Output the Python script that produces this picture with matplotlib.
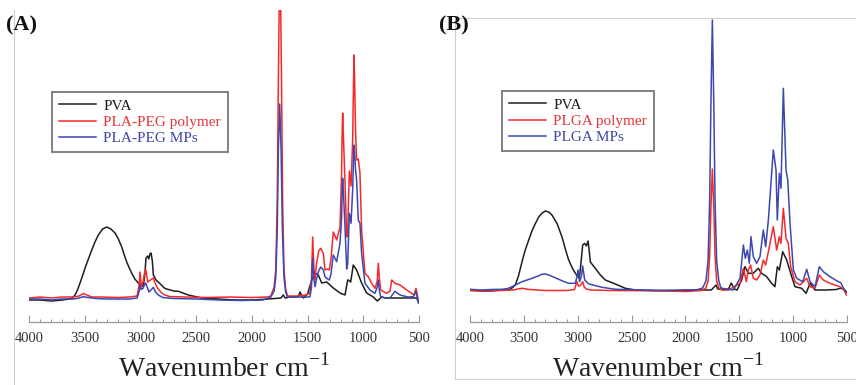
import matplotlib
matplotlib.use("Agg")
import matplotlib.pyplot as plt
from matplotlib.lines import Line2D
from matplotlib.patches import Rectangle
from matplotlib.ticker import MultipleLocator

plt.rcParams['font.family'] = ['Liberation Serif', 'DejaVu Serif']
plt.rcParams['mathtext.fontset'] = 'custom'
plt.rcParams['mathtext.rm'] = 'Liberation Serif'

# ---------------- Panel A data (wavenumber cm-1, absorbance a.u.) ----------------
wn_A_pva = [4000, 3900, 3800, 3700, 3640, 3610, 3587, 3565, 3542, 3520,
            3497, 3467, 3437, 3408, 3378, 3340, 3303, 3265, 3228, 3198,
            3168, 3145, 3123, 3100, 3079, 3050, 3019, 2990, 2974, 2960,
            2950, 2935, 2925, 2915, 2905, 2893, 2884, 2860, 2840, 2780,
            2700, 2660, 2570, 2450, 2300, 2150, 2000, 1850, 1740, 1718,
            1700, 1660, 1610, 1580, 1568, 1550, 1538, 1500, 1463, 1433,
            1404, 1373, 1328, 1269, 1209, 1164, 1140, 1135, 1113, 1090,
            1060, 1015, 970, 910, 874, 835, 800, 760, 650, 560,
            521, 505]
ab_A_pva = [-1, -1, -2, -1, 0, 1, 4, 9, 16, 23,
            31, 40, 49, 57, 64, 70, 72, 70, 66, 60,
            52, 44, 37, 31, 26, 20, 16, 13, 13, 25,
            41, 43, 40, 45, 46, 38, 24, 19, 17, 10.5,
            8, 7.7, 4, 1, 0, -1, -1, 0, 1, 4,
            1, 2, 2, 3, 7, 3, 1, 5, 19, 26,
            24, 16, 17, 11, 6, 4, 19, 19, 17, 34,
            29, 16, 6, 2, -2, 2, 1, 1, 1, 1,
            1, -3]

wn_A_poly = [4000, 3900, 3800, 3700, 3600, 3550, 3513, 3480, 3437, 3350,
             3200, 3100, 3030, 3010, 3004, 2995, 2989, 2975, 2960, 2953,
             2945, 2935, 2910, 2884, 2865, 2845, 2810, 2780, 2740, 2600,
             2400, 2200, 2000, 1860, 1830, 1800, 1785, 1772, 1762, 1752,
             1744, 1734, 1724, 1712, 1697, 1680, 1640, 1600, 1520, 1478,
             1465, 1454, 1443, 1433, 1420, 1400, 1382, 1359, 1344, 1320,
             1305, 1290, 1269, 1239, 1209, 1195, 1190, 1185, 1179, 1164,
             1149, 1140, 1125, 1110, 1095, 1088, 1083, 1077, 1070, 1060,
             1045, 1030, 1015, 985, 955, 925, 895, 875, 865, 855,
             844, 790, 760, 745, 716, 670, 610, 545, 527, 506]
ab_A_poly = [1, 2, 1, 2, 2, 3, 5.5, 4, 2, 2,
             1.5, 2, 3, 15, 27, 16, 12, 18, 28, 29.7,
             24, 17, 19, 21, 15, 10.7, 6, 4, 2.5, 2,
             1.5, 2, 1.5, 2, 3, 12, 30, 100, 220, 320,
             320, 220, 100, 30, 10, 3, 3, 3, 4, 5.7,
             20, 62, 30, 19, 35, 48, 50.7, 45.7, 29, 30,
             29, 40, 67, 59, 72, 125, 165, 186, 165, 116,
             62, 70, 128, 113, 160, 215, 244, 215, 170, 139,
             140, 126, 69, 25.7, 22.3, 15.7, 10.7, 18, 35.7, 20,
             9, 5.7, 8, 19, 15.7, 14, 9, 4, 10.7, -1]

wn_A_mps = [4000, 3900, 3800, 3700, 3600, 3550, 3513, 3470, 3400, 3300,
            3200, 3100, 3030, 3010, 3004, 2995, 2989, 2975, 2960, 2953,
            2940, 2923, 2905, 2884, 2865, 2840, 2800, 2700, 2500, 2300,
            2100, 1900, 1830, 1800, 1785, 1772, 1762, 1750, 1738, 1726,
            1712, 1697, 1680, 1640, 1600, 1520, 1478, 1465, 1454, 1443,
            1433, 1420, 1400, 1382, 1359, 1344, 1320, 1305, 1290, 1269,
            1239, 1209, 1195, 1190, 1185, 1179, 1164, 1149, 1140, 1125,
            1110, 1095, 1088, 1083, 1077, 1070, 1060, 1045, 1030, 1015,
            985, 940, 895, 875, 865, 855, 844, 800, 760, 740,
            716, 670, 600, 550, 527, 506]
ab_A_mps = [0, 0, -1, 0, 0, 1, 2.3, 1.5, 0.5, 0,
            0, 0, 1, 8, 14, 10, 9.7, 11, 15, 16,
            12, 7, 9, 11.7, 7, 4, 1.5, 0.5, 0, -1,
            -1.5, -1, 2, 8, 22, 70, 150, 195, 150, 70,
            22, 7, 2, 2, 2, 1.7, 2.3, 12, 40.7, 20,
            12.3, 20, 28, 32, 29, 22.3, 20, 19, 25, 44,
            37.3, 55.7, 80, 108, 120.7, 108, 72.3, 30, 35, 85.7,
            75.7, 110, 140, 154, 145, 130, 119, 79, 75.7, 45.7,
            15.7, 9, 5.7, 12, 19, 8, 2.3, 1, 1, 4,
            7.7, 4, 2, 2.3, 7.7, -4]

# ---------------- Panel B data ----------------
wn_B_pva = [4000, 3900, 3800, 3700, 3641, 3610, 3579, 3550, 3520, 3490,
            3455, 3425, 3400, 3362, 3330, 3301, 3270, 3239, 3190, 3146,
            3115, 3084, 3050, 3022, 2985, 2968, 2954, 2935, 2920, 2904,
            2893, 2883, 2837, 2790, 2744, 2651, 2558, 2465, 2300, 2100,
            1900, 1760, 1716, 1700, 1650, 1600, 1575, 1545, 1520, 1478,
            1447, 1416, 1370, 1324, 1293, 1246, 1200, 1169, 1147, 1128,
            1097, 1060, 1023, 983, 921, 880, 843, 797, 700, 600,
            565, 530, 505]
ab_B_pva = [1, 0, 0, 1, 1, 3, 6, 15, 28, 40,
            51, 60, 66, 74, 78, 80, 79, 76, 67, 54,
            42, 31, 23, 17.7, 12.7, 30, 46, 47.7, 45, 50,
            40, 29, 22.7, 16, 11, 7, 2.7, 1, 0.5, 0.5,
            1, 1, 6, 2, 1.5, 2, 8, 2, 1, 11,
            24.3, 17.7, 17.7, 22.7, 17.7, 14.3, 7.7, 4.3, 24.3, 21,
            39.3, 31, 17.7, 4.3, 2.7, -2.3, 7.7, 1, 1, 1.5,
            2.7, 2, -1]

wn_B_poly = [4000, 3900, 3800, 3700, 3600, 3517, 3450, 3300, 3100, 3030,
             3007, 2995, 2982, 2965, 2954, 2940, 2920, 2880, 2700, 2400,
             2200, 2000, 1850, 1810, 1790, 1775, 1763, 1750, 1737, 1725,
             1710, 1690, 1660, 1600, 1493, 1462, 1435, 1416, 1395, 1370,
             1339, 1308, 1277, 1255, 1230, 1184, 1153, 1128, 1113, 1091,
             1066, 1045, 1023, 983, 936, 874, 843, 797, 757, 720,
             658, 565, 527, 505]
ab_B_poly = [0.3, 0, 0.5, 0.5, 1, 2.7, 1.5, 0.5, 0.5, 1.5,
             9.3, 5, 5, 7, 9.3, 4, 2, 1, 0.5, 0.3,
             0, -0.5, 0.5, 3, 10, 35, 85, 122, 85, 35,
             10, 3, 1, 1, 7.7, 22.7, 9.3, 21, 26, 12.7,
             11, 16, 31, 26, 39.3, 64.3, 41, 54.3, 47.7, 82.7,
             52.7, 47.7, 24.3, 9.3, 6, 12.7, 4.3, 2.7, 16, 11,
             7.7, 4.3, 1, -4]

wn_B_mps = [4000, 3900, 3800, 3700, 3650, 3610, 3560, 3517, 3470, 3424,
            3380, 3332, 3300, 3270, 3225, 3177, 3130, 3084, 3022, 3005,
            2997, 2982, 2965, 2954, 2935, 2897, 2773, 2650, 2400, 2200,
            2000, 1900, 1840, 1810, 1790, 1775, 1763, 1750, 1737, 1725,
            1710, 1690, 1670, 1620, 1555, 1493, 1462, 1444, 1425, 1407,
            1391, 1370, 1339, 1308, 1277, 1255, 1230, 1184, 1159, 1147,
            1128, 1113, 1091, 1066, 1050, 1029, 998, 967, 911, 874,
            843, 797, 757, 720, 658, 580, 557, 518]
ab_B_mps = [1.7, 1, 1.5, 1.7, 2.5, 4.3, 7, 9.3, 11, 12.7,
            14.5, 16.7, 17, 16, 14, 11.7, 9.5, 7.7, 7.7, 15,
            21, 9.3, 15, 25, 11, 7, 3.7, 1.7, 1, 0.5,
            1, 1, 3, 10, 30, 90, 190, 271, 190, 90,
            30, 10, 3, 2, 1, 12.7, 46, 32.7, 41, 27.7,
            54.3, 34.3, 27.7, 34.3, 61, 44.3, 71, 141, 121, 71,
            117.7, 102.7, 202.7, 121, 111, 67.7, 21, 12.7, 9.3, 21.7,
            9.3, 4.3, 24.3, 19.3, 14.3, 9.3, 8.3, -0.7]

labels_A = ["PVA", "PLA-PEG polymer", "PLA-PEG MPs"]
labels_B = ["PVA", "PLGA polymer", "PLGA MPs"]
tick_values = [4000, 3500, 3000, 2500, 2000, 1500, 1000, 500]
xlabel_text = "Wavenumber cm$^{\\mathregular{-1}}$"

C_BLACK = "#1e1e1e"
C_RED = "#f42a2a"
C_BLUE = "#3c48b0"
TXT_RED = "#e8343a"
TXT_BLUE = "#3e46a6"

W, H = 856, 385
fig = plt.figure(figsize=(W / 100, H / 100), dpi=100)


def fx(px):
    return px / W


def fy(py):
    return 1 - py / H


def make_panel(rect, ylim, series, labels, leg_xy, letter, letter_xy):
    ax = fig.add_axes(rect)
    colors = [C_BLACK, C_RED, C_BLUE]
    handles = []
    for (wn, ab), c, lab in zip(series, colors, labels):
        h, = ax.plot(wn, ab, color=c, lw=1.1, label=lab, solid_joinstyle='round')
        handles.append(h)
    ax.set_xlim(4000, 500)
    ax.set_ylim(*ylim)
    for s in ['left', 'right', 'top']:
        ax.spines[s].set_visible(False)
    ax.spines['bottom'].set_color('#9a9a9a')
    ax.spines['bottom'].set_linewidth(0.9)
    ax.set_yticks([])
    ax.set_xticks(tick_values)
    ax.xaxis.set_minor_locator(MultipleLocator(100))
    ax.tick_params(axis='x', which='major', direction='in', length=5, width=0.8,
                   color='#9a9a9a', labelsize=10.5, labelcolor='#333333', pad=7)
    ax.tick_params(axis='x', which='minor', direction='in', length=2.5, width=0.7,
                   color='#9a9a9a')
    ax.set_xlabel(xlabel_text, fontsize=20, color='#222222', labelpad=6.5)
    leg = ax.legend(handles=handles, loc='upper left',
                    bbox_to_anchor=(fx(leg_xy[0]), fy(leg_xy[1])),
                    bbox_transform=fig.transFigure, borderaxespad=0,
                    fontsize=11, frameon=True, fancybox=False,
                    handlelength=2.4, handletextpad=0.5, labelspacing=0.18,
                    borderpad=0.45)
    leg.get_frame().set_edgecolor('#555555')
    leg.get_frame().set_linewidth(1.3)
    for t, c in zip(leg.get_texts(), ['#1e1e1e', TXT_RED, TXT_BLUE]):
        t.set_color(c)
    fig.text(fx(letter_xy[0]), fy(letter_xy[1]), letter, fontsize=16,
             fontweight='bold', ha='left', va='center', color='#111111')
    return ax


axA = make_panel([fx(29), fy(322), fx(419) - fx(29), fy(10) - fy(322)],
                 (-23, 289),
                 [(wn_A_pva, ab_A_pva), (wn_A_poly, ab_A_poly), (wn_A_mps, ab_A_mps)],
                 labels_A, (52, 92), "(A)", (6, 25))
axB = make_panel([fx(470), fy(322), fx(847) - fx(470), fy(18) - fy(322)],
                 (-31, 273),
                 [(wn_B_pva, ab_B_pva), (wn_B_poly, ab_B_poly), (wn_B_mps, ab_B_mps)],
                 labels_B, (502, 91), "(B)", (439, 25))

# decorative borders from the reference image
fig.add_artist(Line2D([fx(14), fx(14)], [fy(10), 0], color='#cfcfcf', lw=0.8))
fig.add_artist(Rectangle((fx(455), fy(379)), fx(860) - fx(455), fy(18) - fy(379),
                         fill=False, edgecolor='#d0d0d0', lw=0.8))

fig.savefig("out.png", dpi=100)
